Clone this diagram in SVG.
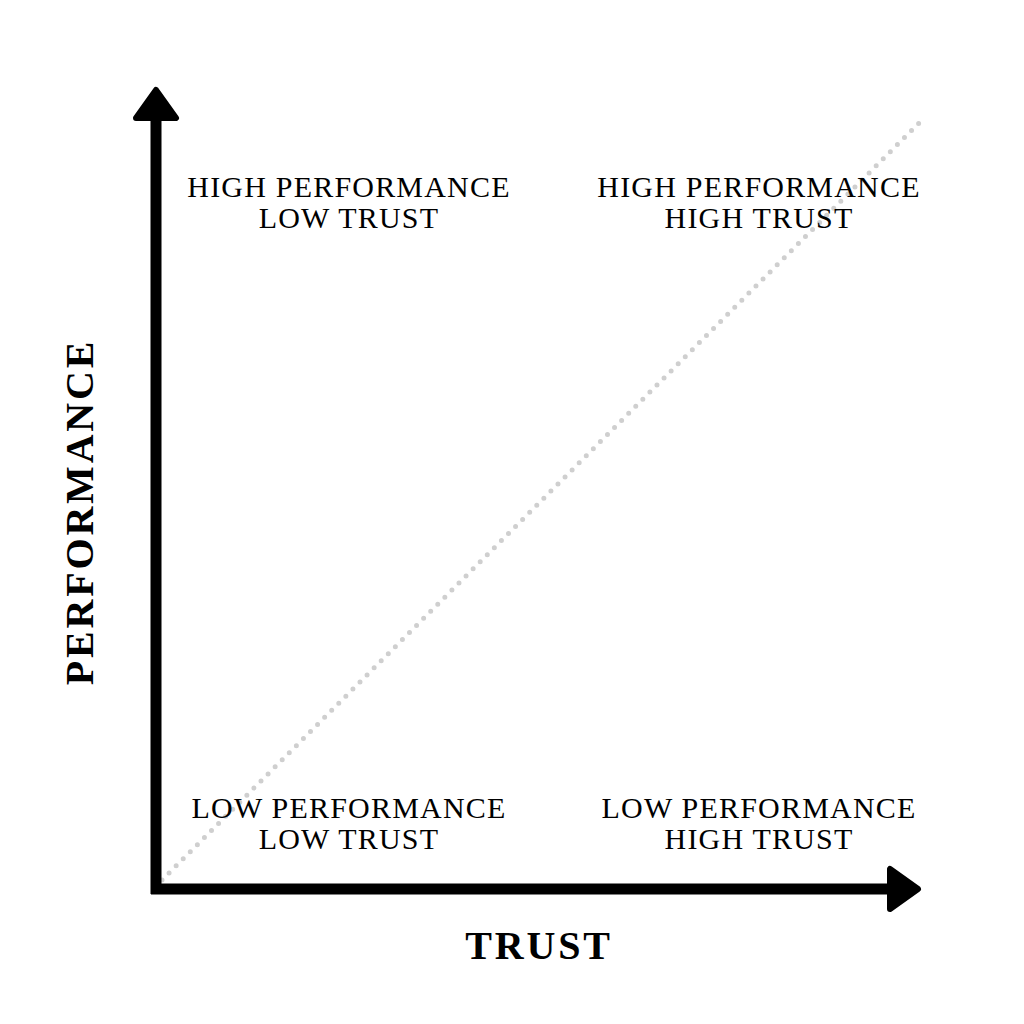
<svg xmlns="http://www.w3.org/2000/svg" width="1024" height="1024" viewBox="0 0 1024 1024">
<style>
.q{font-family:"Liberation Serif","Times New Roman",serif;font-size:30px;letter-spacing:1.2px;text-anchor:middle;fill:#000}
.ax{font-family:"Liberation Serif","Times New Roman",serif;font-size:40px;font-weight:bold;letter-spacing:2.8px;text-anchor:middle;fill:#000}
</style>
<rect width="1024" height="1024" fill="#fff"/>
<g id="connectors">
<line id="diagonal" x1="162" y1="880" x2="920" y2="122" stroke="#cfcfcf" stroke-width="5" stroke-dasharray="0 10" stroke-linecap="round"/>
<path id="y-axis" d="M156 894 V118" stroke="#000" stroke-width="11" fill="none"/>
<path id="x-axis" d="M151 889 H890" stroke="#000" stroke-width="11" fill="none"/>
<path id="y-arrow" d="M156 90 L176 118 H136 Z" fill="#000" stroke="#000" stroke-width="6" stroke-linejoin="round"/>
<path id="x-arrow" d="M918 889 L890 869 V909 Z" fill="#000" stroke="#000" stroke-width="6" stroke-linejoin="round"/>
</g>
<g id="q-hp-lt"><text class="q" x="349" y="197">HIGH PERFORMANCE</text><text class="q" x="349" y="228">LOW TRUST</text></g>
<g id="q-hp-ht"><text class="q" x="759" y="197">HIGH PERFORMANCE</text><text class="q" x="759" y="228">HIGH TRUST</text></g>
<g id="q-lp-lt"><text class="q" x="349" y="818">LOW PERFORMANCE</text><text class="q" x="349" y="849">LOW TRUST</text></g>
<g id="q-lp-ht"><text class="q" x="759" y="818">LOW PERFORMANCE</text><text class="q" x="759" y="849">HIGH TRUST</text></g>
<g id="label-y"><text class="ax" transform="translate(93 512) rotate(-90)">PERFORMANCE</text></g>
<g id="label-x"><text class="ax" x="539" y="959">TRUST</text></g>
</svg>
